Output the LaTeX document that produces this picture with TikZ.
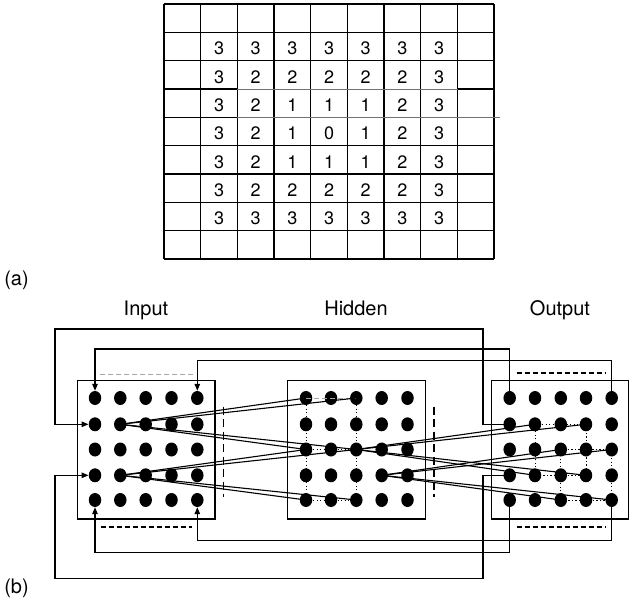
\documentclass[tikz,border=0pt]{standalone}
\usepackage{fontspec}
\setmainfont{TeX Gyre Heros}
\usetikzlibrary{shapes.geometric, arrows.meta}
\begin{document}
\begin{tikzpicture}[x=1pt,y=-1pt,
  ln/.style={line width=1.25pt},
  lnlight/.style={line width=0.8pt, draw=black!55},
  dotnode/.style={ellipse, fill=black, inner sep=0pt, minimum width=12.5pt, minimum height=14pt},
  layerbox/.style={draw, line width=1.25pt, minimum width=137.7pt, minimum height=138.3pt, inner sep=0pt},
  lbl/.style={font=\fontsize{20}{24}\selectfont, inner sep=0pt, anchor=base},
  num/.style={font=\fontsize{18}{21}\selectfont, inner sep=0pt, anchor=base},
  wedge/.style={line width=1.1pt},
  fb/.style={line width=1.25pt, -{Triangle[length=7pt,width=5.5pt]}},
  fdot/.style={line width=1pt, dash pattern=on 1.3pt off 2.2pt},
  vdash/.style={line width=1.5pt, dash pattern=on 8pt off 4.5pt},
  hdash/.style={line width=2pt, dash pattern=on 5pt off 3pt},
  gdash/.style={line width=0.7pt, draw=black!35, dash pattern=on 5pt off 3pt},
]
\useasboundingbox (0,0) rectangle (635,605);

% ---------- (a) grid ----------
\foreach \i in {0,...,9} {
  \draw[ln] ({164+36.67*\i},4) -- ({164+36.67*\i},259);
}
\foreach \j in {0,1,2,5,6,7,8,9} {
  \draw[ln] (164,{4+28.33*\j}) -- (494,{4+28.33*\j});
}
\draw[ln] (164,89) -- (237.3,89);
\draw[lnlight] (237.3,89) -- (457.7,89);
\draw[ln] (457.7,89) -- (494,89);
\draw[ln] (164,117.3) -- (237.3,117.3);
\draw[lnlight] (237.3,117.3) -- (500,117.3);

\foreach \r in {1,...,7} {
  \foreach \c in {1,...,7} {
    \pgfmathtruncatemacro\v{max(abs(\r-4),abs(\c-4))}
    \node[num] (n-\r-\c) at ({164+36.67*(\c+0.5)},{4+28.33*(\r+0.5)+8.2}) {\v};
  }
}
\node[lbl] (la) at (16.5,285) {(a)};

% ---------- (b) ----------
\node[lbl] (lb) at (16.5,593) {(b)};
\node[lbl] (tin) at (146,315) {Input};
\node[lbl] (thid) at (356,315) {Hidden};
\node[lbl] (tout) at (560,315) {Output};

\node[layerbox] (inbox) at (146.2,449.9) {};
\node[layerbox] (hidbox) at (356.3,449.9) {};
\node[layerbox] (outbox) at (560,449.9) {};

% dashed marks
\draw[gdash] (100,374.3) -- (193,374.3);
\draw[hdash] (100.7,527.3) -- (191.7,527.3);
\draw[vdash] (223.5,406.7) -- (223.5,497);
\draw[vdash] (434,406.7) -- (434,497);
\draw[hdash] (516.7,373.3) -- (605,373.3);
\draw[hdash] (516.7,527.3) -- (605,527.3);

% dots
\foreach \x [count=\ci] in {95,120.3,145.7,171.5,197.3} {
  \foreach \y [count=\ri] in {398,424.3,449.5,475.3,500} {
    \node[dotnode] (i-\ri-\ci) at (\x,\y) {};
  }
}
\foreach \x [count=\ci] in {306,331,356.3,381.7,407.5} {
  \foreach \y [count=\ri] in {398,424.3,449.5,475.3,500} {
    \node[dotnode] (h-\ri-\ci) at (\x,\y) {};
  }
}
\foreach \x [count=\ci] in {509.7,535,560.8,586,611.7} {
  \foreach \y [count=\ri] in {398,424.3,449.5,475.3,500} {
    \node[dotnode] (o-\ri-\ci) at (\x,\y) {};
  }
}

% receptive fields (dotted)
\draw[fdot] (h-1-1.center) -- (h-5-1.center);
\draw[fdot] (h-1-3.center) -- (h-5-3.center);
\draw[fdot] (h-3-1.center) -- (h-3-3.center);
\draw[fdot] (h-5-1.center) -- (h-5-3.center);
\draw[gdash] (h-1-1.center) -- (h-1-3.center);
\draw[fdot] (o-2-2.center) -- (o-2-4.center) -- (o-4-4.center) -- (o-4-2.center) -- cycle;
\draw[fdot] (o-3-3.center) -- (o-3-5.center) -- (o-5-5.center) -- (o-5-3.center) -- cycle;

% fan-out connections
\foreach \s/\t in {i-2-2/h-1-1, i-2-2/h-1-3, i-2-2/h-3-1, i-2-2/h-3-3,
                   i-4-2/h-3-1, i-4-2/h-3-3, i-4-2/h-5-1, i-4-2/h-5-3,
                   h-3-3/o-2-2, h-3-3/o-2-4, h-3-3/o-4-2, h-3-3/o-4-4,
                   h-4-4/o-3-3, h-4-4/o-3-5, h-4-4/o-5-3, h-4-4/o-5-5} {
  \draw[wedge] (\s.center) -- (\t.center);
}

% feedback loops
\coordinate (r1) at (483,329);
\coordinate (l1) at (55,424.3);
\draw[fb] (o-2-1.center) -| (r1) -| (l1) -- (i-2-1);
\coordinate (c2) at (95,349);
\draw[fb] (o-1-1.center) |- (c2) -- (i-1-1);
\coordinate (c3) at (197.3,360.7);
\draw[fb] (o-1-5.center) |- (c3) -- (i-1-5);
\coordinate (c4) at (197.3,540.7);
\draw[fb] (o-5-5.center) |- (c4) -- (i-5-5);
\coordinate (c5) at (95,552.7);
\draw[fb] (o-5-1.center) |- (c5) -- (i-5-1);
\coordinate (r6) at (483,578.3);
\coordinate (l6) at (55,475.3);
\draw[fb] (o-4-1.center) -| (r6) -| (l6) -- (i-4-1);
\end{tikzpicture}
\end{document}
